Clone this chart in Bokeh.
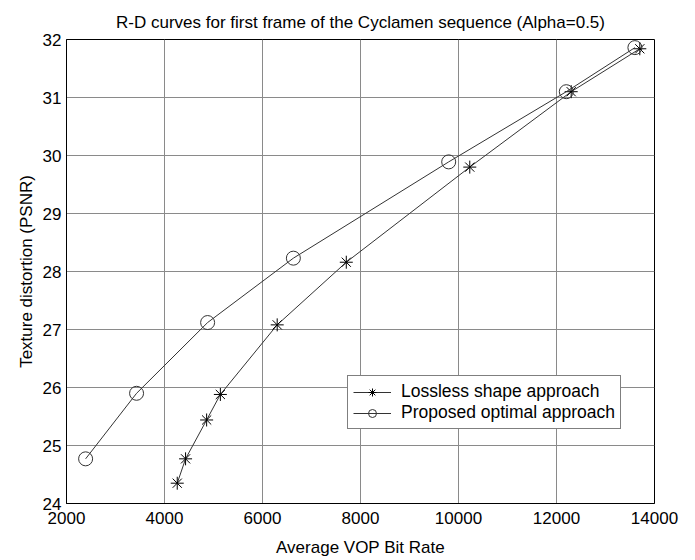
from bokeh.plotting import figure
from bokeh.models import Legend, LegendItem, FixedTicker, Range1d
from bokeh.embed import file_html
from bokeh.resources import INLINE

title_text = "R-D curves for first frame of the Cyclamen sequence (Alpha=0.5)"
x_label = "Average VOP Bit Rate"
y_label = "Texture distortion (PSNR)"

lossless_rate = [4260, 4430, 4860, 5140, 6300, 7710, 10230, 12300, 13700]
lossless_psnr = [24.35, 24.77, 25.44, 25.88, 27.08, 28.16, 29.80, 31.10, 31.84]
proposed_rate = [2390, 3430, 4880, 6630, 9800, 12200, 13600]
proposed_psnr = [24.77, 25.90, 27.12, 28.23, 29.89, 31.10, 31.86]

x_ticks = [2000, 4000, 6000, 8000, 10000, 12000, 14000]
y_ticks = [24, 25, 26, 27, 28, 29, 30, 31, 32]
series_names = ["Lossless shape approach", "Proposed optimal approach"]

FONT = "Liberation Sans"

p = figure(width=695, height=560, output_backend="svg", toolbar_location=None,
           x_range=Range1d(2000, 14000), y_range=Range1d(24, 32),
           min_border_left=66, min_border_right=41, min_border_top=39, min_border_bottom=57)

p.title.text = title_text
p.title.align = "center"
p.title.text_font = FONT
p.title.text_font_size = "17px"
p.title.text_font_style = "normal"
p.title.text_color = "black"
p.title.standoff = 15

p.outline_line_color = "black"
p.outline_line_width = 1
p.background_fill_color = "white"
p.border_fill_color = "white"

for ax in (p.xaxis[0], p.yaxis[0]):
    ax.axis_label_text_font = FONT
    ax.axis_label_text_font_size = "17px"
    ax.axis_label_text_font_style = "normal"
    ax.axis_label_text_color = "black"
    ax.major_label_text_font = FONT
    ax.major_label_text_font_size = "17px"
    ax.major_label_text_color = "black"
    ax.axis_line_color = "black"
    ax.major_tick_in = 0
    ax.major_tick_out = 0
    ax.minor_tick_in = 0
    ax.minor_tick_out = 0

p.xaxis.axis_label = x_label
p.yaxis.axis_label = y_label
p.xaxis.ticker = FixedTicker(ticks=x_ticks)
p.yaxis.ticker = FixedTicker(ticks=y_ticks)
p.xaxis.major_label_standoff = 8
p.yaxis.major_label_standoff = 5
p.xaxis.axis_label_standoff = 11
p.yaxis.axis_label_standoff = 4

p.grid.grid_line_color = "#8a8a8a"
p.grid.grid_line_width = 1
p.xgrid.ticker = FixedTicker(ticks=x_ticks)
p.ygrid.ticker = FixedTicker(ticks=y_ticks)

l1 = p.line(lossless_rate, lossless_psnr, line_color="#333333", line_width=1)
s1 = p.scatter(lossless_rate, lossless_psnr, marker="asterisk", size=13,
               line_color="black", line_width=1)
l2 = p.line(proposed_rate, proposed_psnr, line_color="#333333", line_width=1)
s2 = p.scatter(proposed_rate, proposed_psnr, marker="circle", size=14,
               line_color="#333333", fill_color=None, line_width=1)

legend = Legend(items=[LegendItem(label=series_names[0], renderers=[l1, s1]),
                       LegendItem(label=series_names[1], renderers=[l2, s2])],
                location=(281, 74))
legend.label_text_font = FONT
legend.label_text_font_size = "17.5px"
legend.label_text_color = "black"
legend.glyph_width = 38
legend.glyph_height = 20
legend.label_height = 20
legend.spacing = 0
legend.padding = 5
legend.margin = 0
legend.label_standoff = 10
legend.border_line_color = "black"
legend.border_line_width = 1
legend.background_fill_color = "white"
legend.background_fill_alpha = 1
p.add_layout(legend, "center")

open("out.html", "w").write(file_html(p, INLINE))
